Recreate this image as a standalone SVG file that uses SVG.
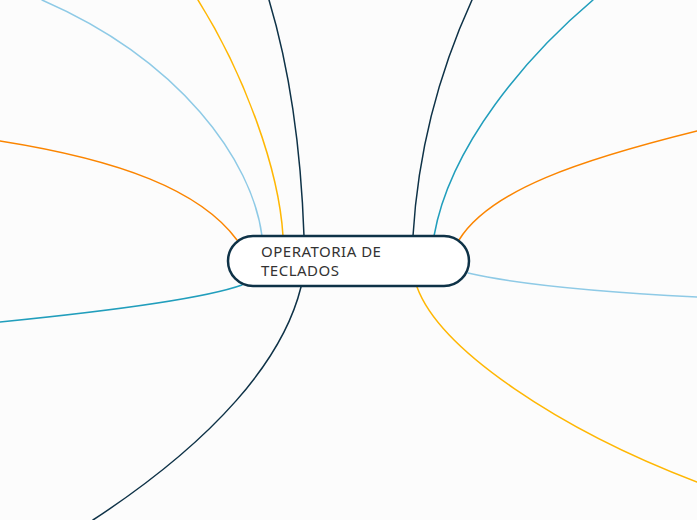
<svg xmlns="http://www.w3.org/2000/svg" width="697" height="520" viewBox="0 0 697 520">
<style>
.c{fill:none;stroke-width:1.5;stroke-linecap:round}
.navy{stroke:#0e3247}
.yellow{stroke:#ffb703}
.orange{stroke:#fb8500}
.lblue{stroke:#8ecae6}
.teal{stroke:#219ebc}
.node{fill:#ffffff;stroke:#0e3247;stroke-width:2.5}
.t{font-family:"Noto Sans","Liberation Sans",sans-serif;font-size:15px;letter-spacing:0.5px;fill:#333333}
</style>
<rect width="697" height="520" fill="#fcfcfc"/>
<g id="connectors">
<path class="c lblue" d="M262,236 C252,160 180,60 42,0"/>
<path class="c yellow" d="M283,236 C279,170 245,75 198,0"/>
<path class="c navy" d="M304,236 C301,150 290,70 269,0"/>
<path class="c navy" d="M413,236 C418,150 440,70 472,0"/>
<path class="c teal" d="M434,236 C450,145 528,55 593,0"/>
<path class="c orange" d="M459,240 C490,190 580,160 697,131"/>
<path class="c orange" d="M237,240 C200,190 120,160 0,141"/>
<path class="c teal" d="M242,285 C200,300 100,312 0,322"/>
<path class="c navy" d="M301,287 C283,360 215,440 93,520"/>
<path class="c lblue" d="M468,273 C520,285 600,292 697,297"/>
<path class="c yellow" d="M417,287 C440,350 560,430 697,482"/>
</g>
<g id="node-main">
<rect class="node" x="228" y="236" width="241" height="50" rx="25" ry="25"/>
<text class="t" x="261" y="257">OPERATORIA DE</text>
<text class="t" x="261" y="276">TECLADOS</text>
</g>
</svg>
